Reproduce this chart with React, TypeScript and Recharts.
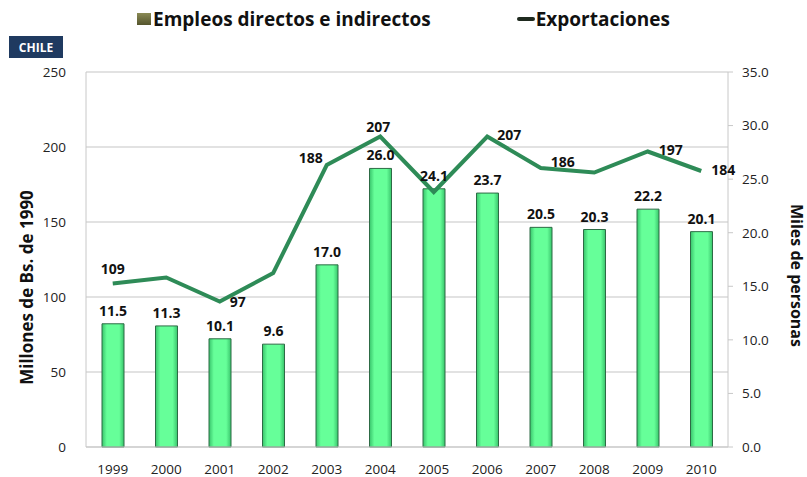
import React from 'react';
import { ComposedChart, Bar, Line, XAxis, YAxis, CartesianGrid, Legend, LabelList, Label } from 'recharts';

const years = ['1999', '2000', '2001', '2002', '2003', '2004', '2005', '2006', '2007', '2008', '2009', '2010'];
const empleos = [11.5, 11.3, 10.1, 9.6, 17.0, 26.0, 24.1, 23.7, 20.5, 20.3, 22.2, 20.1];
const exportaciones = [109, 113, 97, 116, 188, 207, 170, 207, 186, 183, 197, 184];
const exportLabels = ['109', '', '97', '', '188', '207', '', '207', '186', '', '197', '184'];
const leftTicks = [0, 50, 100, 150, 200, 250];
const rightTicks = [0, 5, 10, 15, 20, 25, 30, 35];

const data = years.map((y, i) => ({ year: y, empleos: empleos[i], exportaciones: exportaciones[i], lbl: exportLabels[i] }));

const FONT = '"Open Sans", sans-serif';
const tickStyle = { fill: '#222', fontSize: 13.5, fontFamily: FONT };

// where each export label sits relative to its point
const lineLabelOffsets: Record<number, [number, number]> = {
  0: [0, -13], 2: [18, 2], 4: [-16, -6], 5: [-2, -8], 7: [22, 0], 8: [22, -5], 10: [23, 0], 11: [22, 0],
};

const LineLbl = (props: any) => {
  const { x, y, index } = props;
  const txt = exportLabels[index];
  if (!txt) return null;
  const [dx, dy] = lineLabelOffsets[index] || [0, -12];
  return (
    <text x={x + dx} y={y + dy} textAnchor="middle" dominantBaseline="middle" fill="#111" fontSize={14} fontWeight={700} fontFamily={FONT}>
      {txt}
    </text>
  );
};

const LegendContent = () => (
  <div style={{ display: 'flex', justifyContent: 'center', fontFamily: FONT, fontWeight: 700, fontSize: 19, color: '#111' }}>
    <div style={{ display: 'flex', alignItems: 'center', marginRight: 86 }}>
      <span style={{ width: 14, height: 12, background: 'linear-gradient(#8a8a55, #55552d)', display: 'inline-block', marginRight: 2 }} />
      Empleos directos e indirectos
    </div>
    <div style={{ display: 'flex', alignItems: 'center' }}>
      <span style={{ width: 18, height: 4, background: '#1f2a1f', display: 'inline-block', marginRight: 1, borderRadius: 2 }} />
      Exportaciones
    </div>
  </div>
);

export default function App() {
  return (
    <div style={{ position: 'absolute', left: 0, top: 0, width: 807, height: 477, background: '#fff' }}>
      <div style={{ position: 'absolute', left: 9, top: 36, width: 54, height: 22, background: '#1f3a60', color: '#fff', fontFamily: FONT, fontWeight: 700, fontSize: 12, display: 'flex', alignItems: 'center', justifyContent: 'center', zIndex: 2 }}>
        CHILE
      </div>
      <ComposedChart width={807} height={477} data={data} margin={{ top: 46, right: 0, bottom: 0, left: 0 }}>
        <defs>
          <linearGradient id="barG" x1="0" y1="0" x2="1" y2="0">
            <stop offset="0%" stopColor="#38c46b" />
            <stop offset="22%" stopColor="#66ff99" />
            <stop offset="78%" stopColor="#66ff99" />
            <stop offset="100%" stopColor="#38c46b" />
          </linearGradient>
        </defs>
        <Legend verticalAlign="top" content={<LegendContent />} wrapperStyle={{ top: 6, left: 0, width: 807 }} />
        <CartesianGrid vertical={false} stroke="#d9d9d9" strokeWidth={1.5} yAxisId="left" />
        <XAxis dataKey="year" tick={tickStyle} tickLine={false} axisLine={{ stroke: '#c8c8c8' }} height={30} tickMargin={11} />
        <YAxis yAxisId="left" domain={[0, 250]} ticks={leftTicks} width={86} tick={tickStyle} tickLine={false} axisLine={{ stroke: '#c8c8c8' }} tickMargin={14}>
          <Label value="Millones de Bs. de 1990" angle={-90} position="center" dx={-16} dy={28} style={{ fill: '#111', fontSize: 17, fontWeight: 700, fontFamily: FONT }} />
        </YAxis>
        <YAxis yAxisId="right" orientation="right" domain={[0, 35]} ticks={rightTicks} width={79} tick={tickStyle} tickFormatter={(v: number) => v.toFixed(1)} tickLine={{ stroke: '#c8c8c8' }} tickSize={5} axisLine={{ stroke: '#c8c8c8' }} tickMargin={9}>
          <Label value="Miles de personas" angle={90} position="center" dx={29} dy={16} style={{ fill: '#111', fontSize: 16, fontWeight: 700, fontFamily: FONT }} />
        </YAxis>
        <Bar yAxisId="right" dataKey="empleos" name="Empleos directos e indirectos" barSize={22} fill="url(#barG)" stroke="#2d6b45" strokeWidth={1} isAnimationActive={false}>
          <LabelList dataKey="empleos" position="top" offset={8} formatter={(v: number) => v.toFixed(1)} style={{ fill: '#111', fontSize: 14, fontWeight: 700, fontFamily: FONT }} />
        </Bar>
        <Line yAxisId="left" dataKey="exportaciones" name="Exportaciones" type="linear" stroke="#2e8b57" strokeWidth={4} dot={false} isAnimationActive={false}>
          <LabelList dataKey="lbl" content={<LineLbl />} />
        </Line>
      </ComposedChart>
    </div>
  );
}
